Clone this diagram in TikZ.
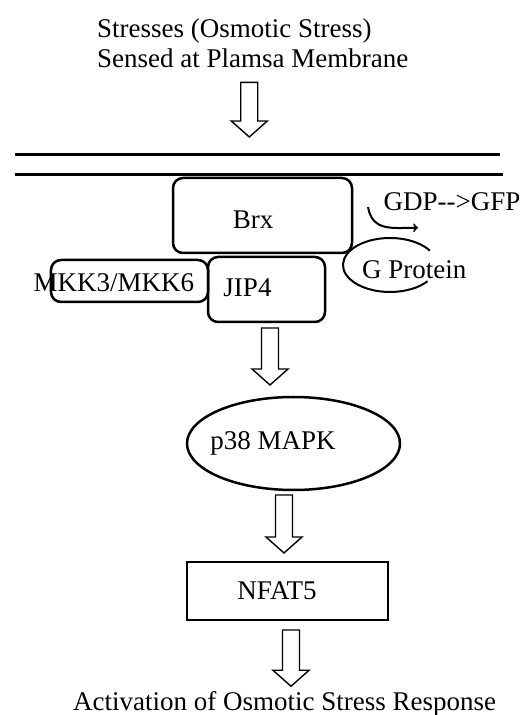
\documentclass[tikz,border=0pt]{standalone}
\usepackage{fontspec}
\setmainfont{Liberation Serif}
\usetikzlibrary{positioning,calc,arrows}
\usetikzlibrary{shapes.geometric}

\begin{document}
\begin{tikzpicture}[
x=1bp, y=1bp,
txt/.style={inner sep=0pt, font=\fontsize{27bp}{30bp}\selectfont},
box/.style={rectangle, draw=black, line width=2.5bp, rounded corners=10bp, outer sep=0pt, inner sep=0pt},
blockarrow/.style={draw, line width=1.4bp, to path={
  let \p1=(\tikztostart), \p2=(\tikztotarget) in
  (\x1-8.5bp,\y1) -- (\x1-8.5bp,\y2+16bp) -- (\x1-18bp,\y2+16bp) -- (\x1,\y2)
  -- (\x1+18bp,\y2+16bp) -- (\x1+8.5bp,\y2+16bp) -- (\x1+8.5bp,\y1) -- cycle}}
]
\useasboundingbox (0,0) rectangle (526,715);
%Nodes
\node[txt, align=left, anchor=north west] (title) at (97,696) {Stresses (Osmotic Stress)\\ Sensed at Plamsa Membrane};
\node[box, minimum width=179bp, minimum height=75bp, label={[txt,xshift=-9.5bp,yshift=-4bp]center:Brx}] (brx) at (262.5,499.5) {};
\node[box, minimum width=117bp, minimum height=65bp, label={[txt,xshift=-19bp,yshift=2bp]center:JIP4}] (jip) [below=4bp of brx, xshift=4bp] {};
\node[box, minimum width=157bp, minimum height=42bp, label={[txt,xshift=-15.5bp,yshift=-2bp]center:MKK3/MKK6}] (mkk) [left=0bp of jip, yshift=8.5bp] {};
\node[txt] (gdp) [right=31.5bp of brx.east, yshift=13.5bp] {GDP-{}->GFP};
\node[txt] (gprot) [right=10bp of brx.south east, yshift=-17bp] {G Protein};
\node[ellipse, draw=black, line width=2.5bp, outer sep=0pt, minimum width=213bp, minimum height=93bp, label={[txt,xshift=-20.5bp]center:p38 MAPK}] (p38) [below=75bp of jip, xshift=27bp] {};
\node[rectangle, draw=black, line width=2.8bp, outer sep=0pt, minimum width=201bp, minimum height=58bp, label={[txt,xshift=-10.5bp]center:NFAT5}] (nfat) [below=72bp of p38, xshift=-6bp] {};
\node[txt, anchor=base] (act) [below=90bp of nfat.south, anchor=base, xshift=-3bp] {Activation of Osmotic Stress Response};
%Membrane
\coordinate (memtop) at (249,560);
\draw[line width=3bp] (15,560) -- (500,560);
\draw[line width=3bp] (15,540) -- (503,540);
%Lines
\draw[blockarrow] ([xshift=-3.5bp,yshift=-14bp]title.south) to ([yshift=18bp]memtop);
\draw[blockarrow] ([xshift=3.5bp,yshift=-6bp]jip.south) to ([yshift=12bp]p38.north);
\draw[blockarrow] ([xshift=-9.5bp,yshift=-5bp]p38.south) to ([yshift=9bp]nfat.north);
\draw[blockarrow] ([xshift=3.5bp,yshift=-10bp]nfat.south) to ([yshift=4.5bp]act.north);
\draw[line width=2bp, ->] ([xshift=16bp,yshift=8.5bp]brx.east) to[out=-80,in=180,looseness=1.2] ([xshift=34.5bp,yshift=-16.5bp]gdp.south west);
\draw[line width=2bp] ([xshift=28bp,yshift=5bp]gprot.west) ++(32:47bp and 27bp) arc[start angle=32, end angle=323, x radius=47bp, y radius=27bp];
\end{tikzpicture}
\end{document}
